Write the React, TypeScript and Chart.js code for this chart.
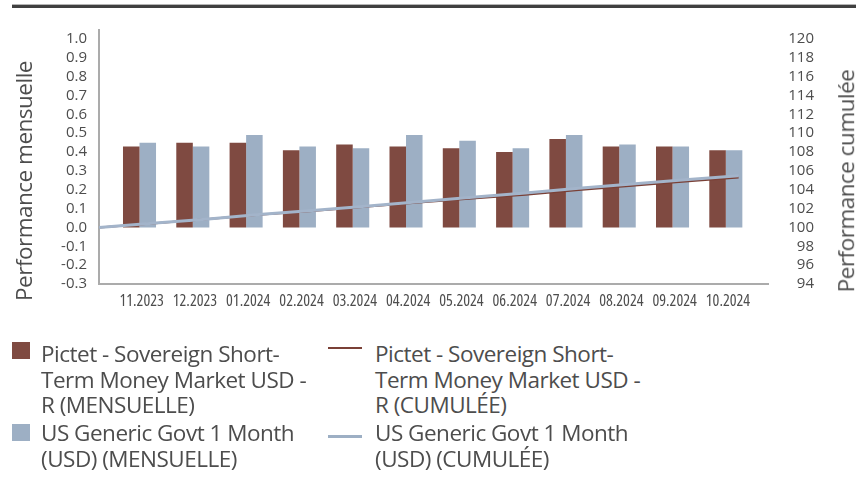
import React, { useEffect, useRef } from 'react';
import { Chart, registerables } from 'chart.js';

Chart.register(...registerables);

// ---- data ----
const months = ['11.2023', '12.2023', '01.2024', '02.2024', '03.2024', '04.2024', '05.2024', '06.2024', '07.2024', '08.2024', '09.2024', '10.2024'];
const fundMonthly = [0.43, 0.45, 0.45, 0.41, 0.44, 0.43, 0.42, 0.40, 0.47, 0.43, 0.43, 0.41];
const benchMonthly = [0.45, 0.43, 0.49, 0.43, 0.42, 0.49, 0.46, 0.42, 0.49, 0.44, 0.43, 0.41];
const fundCumulative = [100, 100.43, 100.88, 101.34, 101.75, 102.20, 102.64, 103.07, 103.48, 103.97, 104.42, 104.87, 105.30];
const benchCumulative = [100, 100.45, 100.88, 101.38, 101.81, 102.24, 102.74, 103.21, 103.65, 104.16, 104.61, 105.06, 105.49];
const leftTicks = [-0.3, -0.2, -0.1, 0, 0.1, 0.2, 0.3, 0.4, 0.5, 0.6, 0.7, 0.8, 0.9, 1.0];
const rightTicks = [94, 96, 98, 100, 102, 104, 106, 108, 110, 112, 114, 116, 118, 120];

const fundLabel = ['Pictet - Sovereign Short-', 'Term Money Market USD -'];
const benchLabel = ['US Generic Govt 1 Month'];

const RED = '#7f4a41';
const RED_LINE = '#7a4036';
const BLUE = '#9dafc4';
const BLUE_LINE = '#a3b4ca';
const TEXT = '#4d4d4d';
const AXIS = '#ababab';
const FONT = "'Open Sans', 'Noto Sans', sans-serif";

const BAR_SHIFT = 0.76;
const LABEL_SHIFT = 0.8;

const axisLines = {
  id: 'axisLines',
  beforeDatasetsDraw(chart: any) {
    const { ctx, chartArea } = chart;
    const { left, right, top, bottom } = chartArea;
    ctx.save();
    ctx.strokeStyle = AXIS;
    ctx.lineWidth = 2;
    ctx.beginPath();
    ctx.moveTo(left, top);
    ctx.lineTo(left, bottom + 1);
    ctx.moveTo(left, bottom);
    ctx.lineTo(right, bottom);
    ctx.stroke();
    ctx.restore();
  },
};

export default function App() {
  const canvasRef = useRef<HTMLCanvasElement | null>(null);

  useEffect(() => {
    const canvas = canvasRef.current;
    if (!canvas) return;
    const chart = new Chart(canvas, {
      type: 'bar',
      plugins: [axisLines],
      data: {
        datasets: [
          {
            type: 'line',
            label: benchLabel.join(' ') + ' (USD) (CUMULÉE)',
            data: benchCumulative.map((v, i) => ({ x: i, y: v })),
            borderColor: BLUE_LINE,
            backgroundColor: BLUE_LINE,
            borderWidth: 3,
            pointRadius: 0,
            tension: 0,
            xAxisID: 'x',
            yAxisID: 'y2',
            order: 0,
          },
          {
            type: 'line',
            label: fundLabel.join(' ') + ' R (CUMULÉE)',
            data: fundCumulative.map((v, i) => ({ x: i, y: v })),
            borderColor: RED_LINE,
            backgroundColor: RED_LINE,
            borderWidth: 2,
            pointRadius: 0,
            tension: 0,
            xAxisID: 'x',
            yAxisID: 'y2',
            order: 1,
          },
          {
            type: 'bar',
            label: fundLabel.join(' ') + ' R (MENSUELLE)',
            data: fundMonthly.map((v, i) => ({ x: i + BAR_SHIFT, y: v })),
            backgroundColor: RED,
            borderWidth: 0,
            categoryPercentage: 0.62,
            barPercentage: 1,
            xAxisID: 'x',
            yAxisID: 'y',
            order: 2,
          },
          {
            type: 'bar',
            label: benchLabel.join(' ') + ' (USD) (MENSUELLE)',
            data: benchMonthly.map((v, i) => ({ x: i + BAR_SHIFT, y: v })),
            backgroundColor: BLUE,
            borderWidth: 0,
            categoryPercentage: 0.62,
            barPercentage: 1,
            xAxisID: 'x',
            yAxisID: 'y',
            order: 3,
          },
        ] as any,
      },
      options: {
        responsive: false,
        animation: false,
        layout: { padding: { top: 27, right: 42, left: 0, bottom: 0 } },
        plugins: { legend: { display: false }, tooltip: { enabled: false } },
        scales: {
          x: {
            type: 'linear',
            offset: false,
            min: 0,
            max: 12.57,
            grid: { display: false, drawTicks: false, offset: false },
            border: { display: false },
            afterBuildTicks: (scale: any) => {
              scale.ticks = months.map((_, i) => ({ value: i + LABEL_SHIFT }));
            },
            afterFit: (scale: any) => {
              scale.height = 36;
            },
            ticks: {
              autoSkip: false,
              maxRotation: 0,
              padding: 8,
              color: TEXT,
              font: { family: FONT, size: 16, weight: 'semi-condensed' },
              callback: (_v: any, i: number) => months[i],
            },
          },
          y: {
            type: 'linear',
            position: 'left',
            min: -0.3,
            max: 1.053,
            grid: { display: false, drawTicks: false },
            border: { display: false },
            afterBuildTicks: (scale: any) => {
              scale.ticks = leftTicks.map((v) => ({ value: v }));
            },
            afterFit: (scale: any) => {
              scale.width = 99;
            },
            ticks: {
              autoSkip: false,
              padding: 12,
              color: TEXT,
              font: { family: FONT, size: 15 },
              callback: (v: any) => Number(v).toFixed(1),
            },
          },
          y2: {
            type: 'linear',
            position: 'right',
            min: 94,
            max: 121.06,
            grid: { display: false, drawTicks: false },
            border: { display: false },
            afterBuildTicks: (scale: any) => {
              scale.ticks = rightTicks.map((v) => ({ value: v }));
            },
            afterFit: (scale: any) => {
              scale.width = 45;
            },
            ticks: {
              autoSkip: false,
              padding: 20,
              crossAlign: 'far',
              color: TEXT,
              font: { family: FONT, size: 15 },
              callback: (v: any) => String(Math.round(Number(v))),
            },
          },
        },
      } as any,
    });
    return () => chart.destroy();
  }, []);

  const textStyle: React.CSSProperties = {
    position: 'absolute',
    fontFamily: FONT,
    fontStretch: '91%',
    fontSize: 22.5,
    letterSpacing: '-0.5px',
    lineHeight: '25.7px',
    color: TEXT,
    whiteSpace: 'nowrap',
  };

  return (
    <div style={{ position: 'fixed', left: 0, top: 0, width: 856, height: 477, background: '#fff', overflow: 'hidden' }}>
      <div style={{ position: 'absolute', left: 12, top: 4, width: 844, height: 3, background: '#404040', borderTop: '1px solid #b5b5b5' }} />
      <canvas ref={canvasRef} width={856} height={320} style={{ position: 'absolute', left: 0, top: 0 }} />

      <div style={{ ...textStyle, left: 24, top: 181, transform: 'translate(-50%, -50%) rotate(-90deg)' }}>Performance mensuelle</div>
      <div style={{ ...textStyle, left: 846, top: 181, transform: 'translate(-50%, -50%) rotate(-90deg)' }}>Performance cumulée</div>

      {/* legend */}
      <div style={{ position: 'absolute', left: 12, top: 342, width: 18, height: 17, background: RED }} />
      <div style={{ ...textStyle, left: 41, top: 341 }}>
        {fundLabel[0]}<br />{fundLabel[1]}<br />R (MENSUELLE)
      </div>
      <div style={{ position: 'absolute', left: 12, top: 424, width: 18, height: 17, background: BLUE }} />
      <div style={{ ...textStyle, left: 41, top: 420 }}>
        {benchLabel[0]}<br />(USD) (MENSUELLE)
      </div>

      <div style={{ position: 'absolute', left: 328, top: 347, width: 34, height: 2, background: RED_LINE }} />
      <div style={{ ...textStyle, left: 375, top: 341 }}>
        {fundLabel[0]}<br />{fundLabel[1]}<br />R (CUMULÉE)
      </div>
      <div style={{ position: 'absolute', left: 328, top: 435, width: 34, height: 3, background: BLUE }} />
      <div style={{ ...textStyle, left: 375, top: 420 }}>
        {benchLabel[0]}<br />(USD) (CUMULÉE)
      </div>
    </div>
  );
}
